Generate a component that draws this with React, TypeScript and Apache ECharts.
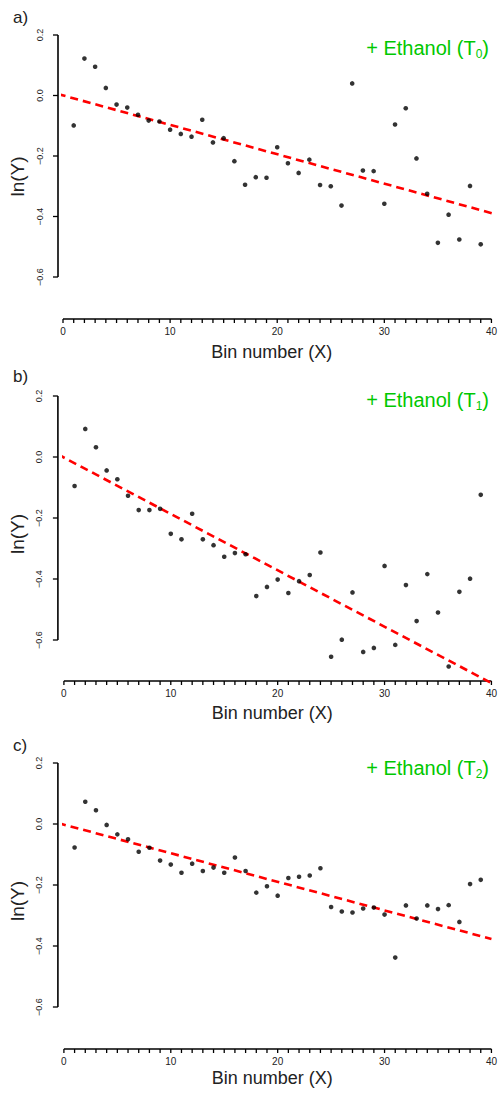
import React, { useEffect, useRef } from "react";
import * as echarts from "echarts";

// ---------- data ----------
const binsX = [1, 2, 3, 4, 5, 6, 7, 8, 9, 10, 11, 12, 13, 14, 15, 16, 17, 18, 19, 20,
  21, 22, 23, 24, 25, 26, 27, 28, 29, 30, 31, 32, 33, 34, 35, 36, 37, 38, 39];

const lnYT0 = [-0.099, 0.122, 0.095, 0.025, -0.030, -0.040, -0.064, -0.083, -0.086, -0.113,
  -0.127, -0.136, -0.080, -0.155, -0.141, -0.217, -0.295, -0.270, -0.272, -0.171,
  -0.224, -0.256, -0.212, -0.296, -0.300, -0.364, 0.040, -0.248, -0.250, -0.358,
  -0.096, -0.042, -0.208, -0.325, -0.487, -0.394, -0.476, -0.299, -0.492];

const lnYT1 = [-0.095, 0.092, 0.032, -0.044, -0.073, -0.127, -0.174, -0.174, -0.170, -0.252,
  -0.270, -0.186, -0.270, -0.289, -0.327, -0.315, -0.319, -0.456, -0.426, -0.402,
  -0.446, -0.407, -0.387, -0.313, -0.655, -0.599, -0.444, -0.639, -0.626, -0.357,
  -0.616, -0.420, -0.538, -0.384, -0.510, -0.687, -0.442, -0.399, -0.124];

const lnYT2 = [-0.077, 0.073, 0.045, -0.003, -0.034, -0.050, -0.091, -0.078, -0.120, -0.133,
  -0.160, -0.130, -0.154, -0.143, -0.160, -0.110, -0.154, -0.225, -0.204, -0.235,
  -0.177, -0.173, -0.169, -0.145, -0.272, -0.287, -0.290, -0.277, -0.274, -0.297,
  -0.438, -0.267, -0.310, -0.267, -0.279, -0.266, -0.321, -0.197, -0.183];

// fitted regression line end points (x, ln(Y))
const fitT0 = [[-0.49, 0.005], [40.55, -0.394]];
const fitT1 = [[-0.59, 0.009], [40.1, -0.743]];
const fitT2 = [[-0.55, 0.003], [40.0, -0.377]];

const yTicks = { min: -0.6, max: 0.2, step: 0.2 };
const xTicks = { min: 0, max: 40, step: 10, minorStep: 1 };
const yTickVals = [-0.6, -0.4, -0.2, 0.0, 0.2];

const panelLetters = ["a)", "b)", "c)"];
const panelSubs = ["0", "1", "2"];
const xTitle = "Bin number (X)";
const yTitle = "ln(Y)";

// ---------- layout ----------
const FONT = "'Liberation Sans', Arial, Helvetica, sans-serif";
const panels = [
  { left: 63, width: 431, top: 35, height: 242, yOff: 5, xOff: 42,
    letterTop: 7, lnYGap: 25.5, lnYShift: 41, xGap: 23.5, tagTop: 36, ys: lnYT0, fit: fitT0 },
  { left: 61, width: 433, top: 396, height: 244, yOff: 6, xOff: 41,
    letterTop: 366, lnYGap: 25, lnYShift: 32, xGap: 23, tagTop: 388, ys: lnYT1, fit: fitT1 },
  { left: 59, width: 435, top: 763, height: 244, yOff: 6, xOff: 42,
    letterTop: 735, lnYGap: 24, lnYShift: 32, xGap: 20, tagTop: 756, ys: lnYT2, fit: fitT2 },
];

export default function App() {
  const ref = useRef<HTMLDivElement>(null);

  useEffect(() => {
    document.body.style.margin = "0";
    if (!ref.current) return;
    const chart = echarts.init(ref.current, undefined, { renderer: "svg" });

    const grids: any[] = [];
    const xAxes: any[] = [];
    const yAxes: any[] = [];
    const series: any[] = [];
    const titles: any[] = [];

    panels.forEach((p, i) => {
      grids.push({ left: p.left, top: p.top, width: p.width, height: p.height, containLabel: false });
      xAxes.push({
        gridIndex: i, type: "value", min: xTicks.min, max: xTicks.max, interval: xTicks.step,
        offset: p.xOff, position: "bottom",
        name: xTitle, nameLocation: "middle", nameGap: p.xGap,
        nameTextStyle: { fontSize: 18, color: "#222", fontFamily: FONT, lineHeight: 18, padding: [0, 11, 0, 0] },
        axisLine: { show: false, onZero: false },
        axisTick: { show: false },
        minorTick: { show: false },
        axisLabel: { fontSize: 10, color: "#222", margin: 7, fontFamily: FONT },
        splitLine: { show: false },
        minorSplitLine: { show: false },
      });
      yAxes.push({
        gridIndex: i, type: "value", min: yTicks.min, max: yTicks.max, interval: yTicks.step,
        offset: p.yOff, position: "left",
        name: yTitle, nameLocation: "middle", nameGap: p.lnYGap, nameRotate: 90,
        nameTextStyle: { fontSize: 19, color: "#222", fontFamily: FONT, lineHeight: 19, padding: [0, p.lnYShift, 0, 0] },
        axisLine: { show: false, onZero: false },
        axisTick: { show: false },
        axisLabel: {
          fontSize: 9, color: "#222", margin: 14, rotate: 90, fontFamily: FONT,
          formatter: (v: number) => {
            const s = Math.abs(v) < 1e-9 ? "0.0" : v.toFixed(1);
            return s.replace("-", "\u2212");
          },
        },
        splitLine: { show: false },
      });

      // R-style detached axis lines and ticks, placed through the axes' own scales
      series.push({
        type: "custom", xAxisIndex: i, yAxisIndex: i, silent: true, clip: false, z: 1,
        data: [[xTicks.min, yTicks.min]],
        renderItem: (_params: any, api: any) => {
          const children: any[] = [];
          const origin = api.coord([xTicks.min, yTicks.min]);
          const topPt = api.coord([xTicks.min, yTicks.max]);
          const rightPt = api.coord([xTicks.max, yTicks.min]);
          const ax = origin[0] - p.yOff;
          const ay = origin[1] + p.xOff;
          const axisStyle = { stroke: "#000", lineWidth: 1.6, fill: null };
          const tickStyle = { stroke: "#000", lineWidth: 1.3, fill: null };
          children.push({ type: "line", shape: { x1: ax, y1: topPt[1], x2: ax, y2: origin[1] }, style: axisStyle });
          yTickVals.forEach((v) => {
            const py = api.coord([xTicks.min, v])[1];
            children.push({ type: "line", shape: { x1: ax - 5, y1: py, x2: ax, y2: py }, style: tickStyle });
          });
          children.push({ type: "line", shape: { x1: origin[0], y1: ay, x2: rightPt[0], y2: ay }, style: axisStyle });
          for (let k = xTicks.min; k <= xTicks.max; k += xTicks.minorStep) {
            const px = api.coord([k, yTicks.min])[0];
            children.push({ type: "line", shape: { x1: px, y1: ay, x2: px, y2: ay + 4 }, style: tickStyle });
          }
          return { type: "group", children };
        },
      });
      series.push({
        type: "line", xAxisIndex: i, yAxisIndex: i, data: p.fit, symbol: "none", clip: false,
        lineStyle: { color: "#ff0000", width: 2.6, type: [8, 5] }, z: 2, silent: true,
      });
      series.push({
        type: "scatter", xAxisIndex: i, yAxisIndex: i, clip: false,
        data: binsX.map((x, j) => [x, p.ys[j]]),
        symbol: "circle", symbolSize: 4.6, itemStyle: { color: "#000" }, z: 3,
      });
      titles.push({
        text: panelLetters[i], left: 13, top: p.letterTop, padding: 0,
        textStyle: { fontSize: 17, fontWeight: "normal", color: "#222", fontFamily: FONT, lineHeight: 20 },
      });
      titles.push({
        text: `+ Ethanol (T{sub|${panelSubs[i]}})`, right: 11, top: p.tagTop, padding: 0,
        textStyle: {
          fontSize: 20, fontWeight: "normal", color: "#00c800", fontFamily: FONT, lineHeight: 24,
          rich: {
            sub: { fontSize: 12, color: "#00c800", fontFamily: FONT, lineHeight: 12, verticalAlign: "bottom" },
          },
        },
      });
    });

    chart.setOption({
      animation: false,
      title: titles,
      grid: grids,
      xAxis: xAxes,
      yAxis: yAxes,
      series,
    });
    return () => chart.dispose();
  }, []);

  return <div ref={ref} style={{ width: 500, height: 1094 }} />;
}
